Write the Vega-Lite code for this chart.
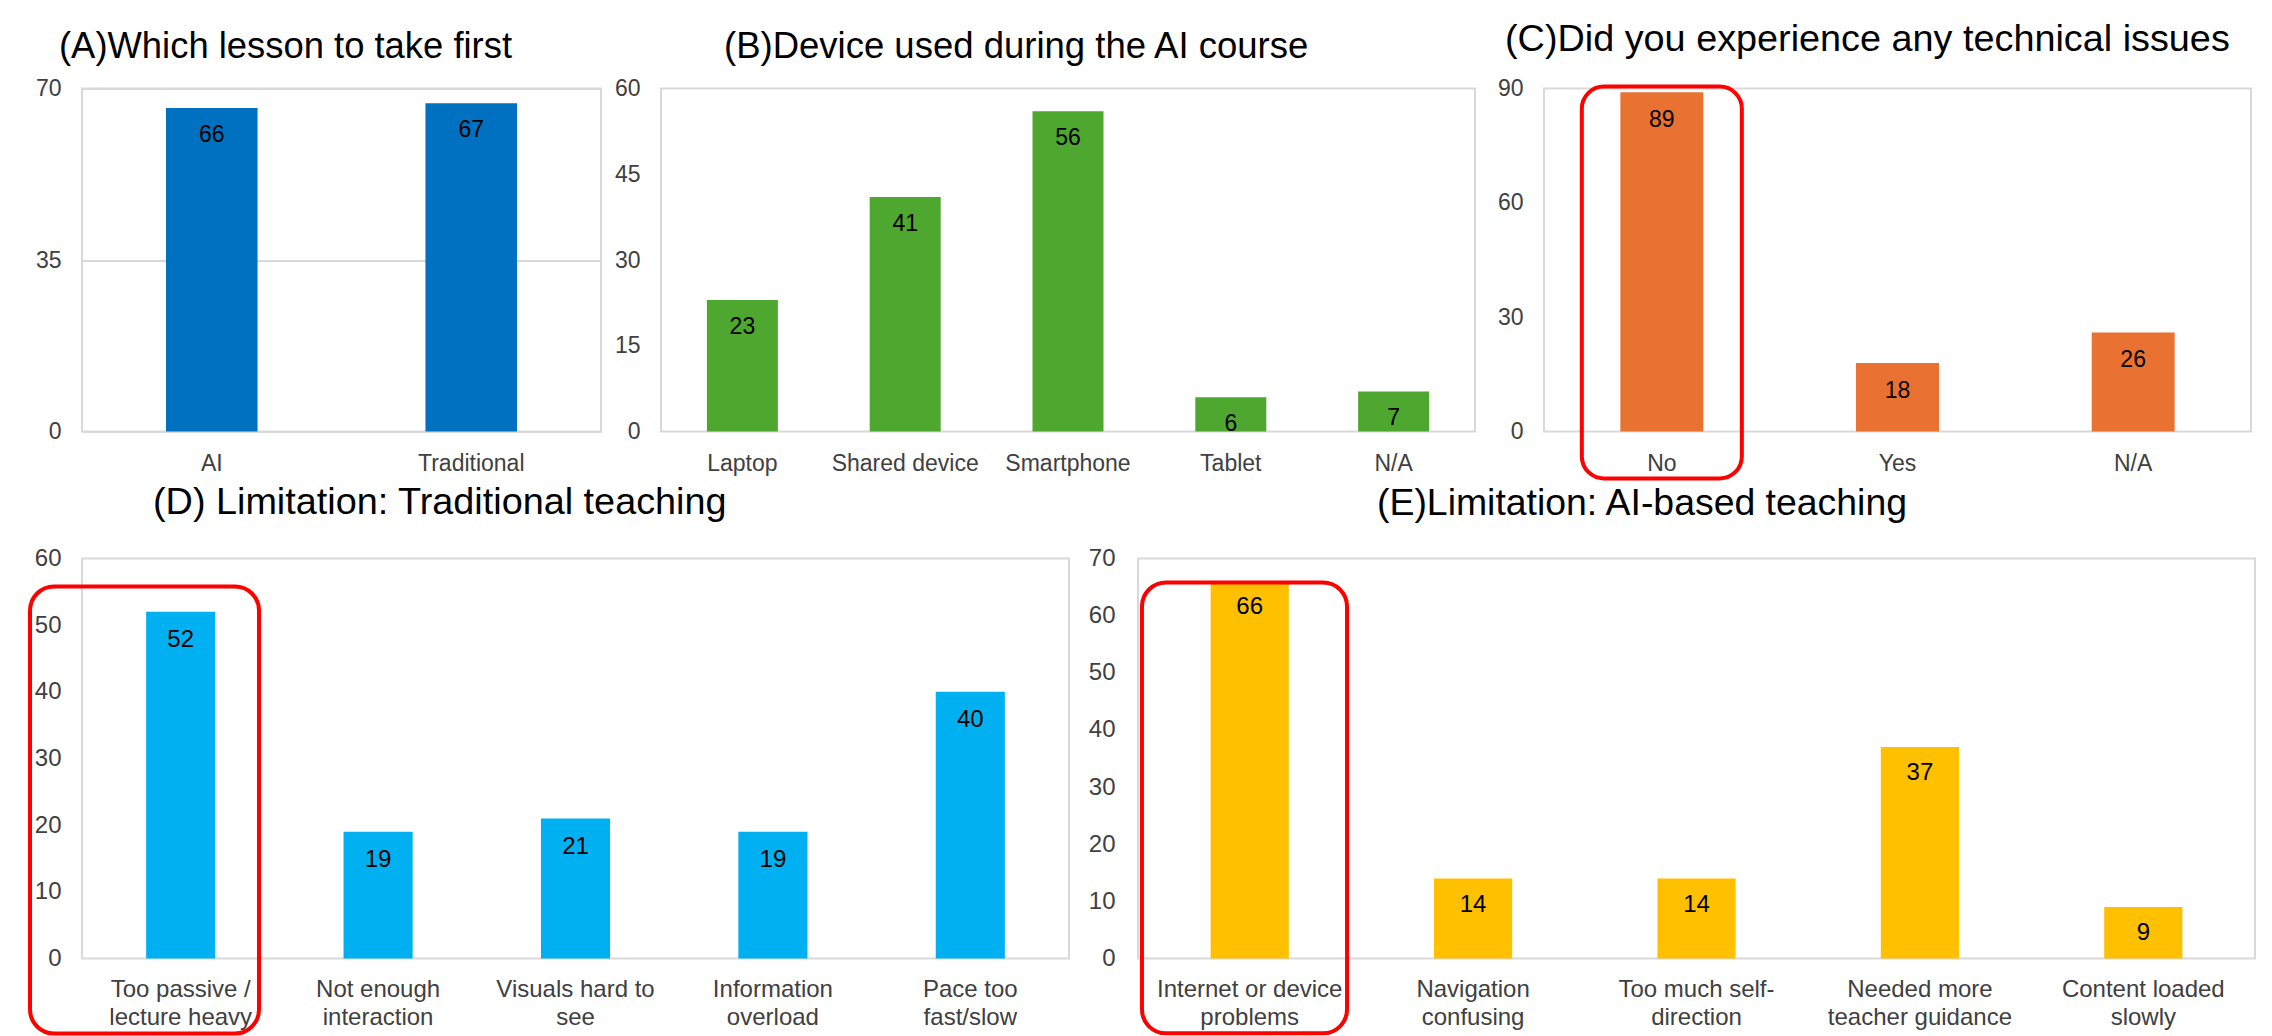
{
  "$schema": "https://vega.github.io/schema/vega-lite/v6.json",
  "background": "white",
  "padding": {"left": 27, "top": 19.5, "right": 5, "bottom": 0},
  "config": {
    "font": "Liberation Sans",
    "view": {"stroke": "#d9d9d9", "strokeWidth": 2},
    "axis": {"labelFont": "Liberation Sans", "labelColor": "#404040", "ticks": false, "domain": false, "grid": false, "labelLimit": 0},
    "axisX": {"labelAngle": 0, "labelPadding": 21, "labelFontSize": 23},
    "axisY": {"labelPadding": 21, "labelFontSize": 23},
    "title": {"anchor": "start", "font": "Liberation Sans", "fontWeight": "normal", "color": "#000000", "frame": "group", "offset": 0}
  },
  "datasets": {
    "lesson": [{"option": "AI", "count": 66}, {"option": "Traditional", "count": 67}],
    "device": [{"device": "Laptop", "count": 23}, {"device": "Shared device", "count": 41}, {"device": "Smartphone", "count": 56}, {"device": "Tablet", "count": 6}, {"device": "N/A", "count": 7}],
    "issues": [{"answer": "No", "count": 89}, {"answer": "Yes", "count": 18}, {"answer": "N/A", "count": 26}],
    "traditional": [{"limitation": "Too passive /\nlecture heavy", "count": 52}, {"limitation": "Not enough\ninteraction", "count": 19}, {"limitation": "Visuals hard to\nsee", "count": 21}, {"limitation": "Information\noverload", "count": 19}, {"limitation": "Pace too\nfast/slow", "count": 40}],
    "aibased": [{"limitation": "Internet or device\nproblems", "count": 66}, {"limitation": "Navigation\nconfusing", "count": 14}, {"limitation": "Too much self-\ndirection", "count": 14}, {"limitation": "Needed more\nteacher guidance", "count": 37}, {"limitation": "Content loaded\nslowly", "count": 9}]
  },
  "spacing": 470,
  "bounds": "flush",
  "vconcat": [
    {
      "hconcat": [
        {
          "width": 519, "height": 343,
          "title": {"text": "(A)Which lesson to take first", "fontSize": 36.4, "dx": -23, "dy": -8.5},
          "data": {"name": "lesson"},
          "layer": [
            {
              "mark": {"type": "bar", "color": "#0070C0", "width": {"band": 0.353}},
              "encoding": {
                "x": {"field": "option", "type": "nominal", "scale": {"domain": ["AI", "Traditional"], "paddingInner": 0, "paddingOuter": 0}, "axis": {"title": null}},
                "y": {"field": "count", "type": "quantitative", "scale": {"domain": [0, 70], "nice": false}, "axis": {"title": null, "values": [0, 35, 70], "grid": true, "gridColor": "#d9d9d9", "gridWidth": 2}}
              }
            },
            {
              "mark": {"type": "text", "dy": 27, "baseline": "middle", "fontSize": 23, "color": "#000000"},
              "encoding": {
                "x": {"field": "option", "type": "nominal"},
                "y": {"field": "count", "type": "quantitative"},
                "text": {"field": "count", "type": "quantitative"}
              }
            }
          ]
        },
        {
          "hconcat": [
            {
              "width": 814, "height": 343,
              "title": {"text": "(B)Device used during the AI course", "fontSize": 36.5, "dx": 63, "dy": -8.5},
              "data": {"name": "device"},
              "layer": [
                {
                  "mark": {"type": "bar", "color": "#4EA72E", "width": {"band": 0.436}},
                  "encoding": {
                    "x": {"field": "device", "type": "nominal", "scale": {"domain": ["Laptop", "Shared device", "Smartphone", "Tablet", "N/A"], "paddingInner": 0, "paddingOuter": 0}, "axis": {"title": null}},
                    "y": {"field": "count", "type": "quantitative", "scale": {"domain": [0, 60], "nice": false}, "axis": {"title": null, "values": [0, 15, 30, 45, 60]}}
                  }
                },
                {
                  "mark": {"type": "text", "dy": 27, "baseline": "middle", "fontSize": 23, "color": "#000000"},
                  "encoding": {
                    "x": {"field": "device", "type": "nominal"},
                    "y": {"field": "count", "type": "quantitative"},
                    "text": {"field": "count", "type": "quantitative"}
                  }
                }
              ]
            },
            {
              "width": 707, "height": 343,
              "title": {"text": "(C)Did you experience any technical issues", "fontSize": 37.8, "dx": -39, "dy": -14.5},
              "data": {"name": "issues"},
              "layer": [
                {
                  "mark": {"type": "bar", "color": "#E97132", "width": {"band": 0.352}},
                  "encoding": {
                    "x": {"field": "answer", "type": "nominal", "scale": {"domain": ["No", "Yes", "N/A"], "paddingInner": 0, "paddingOuter": 0}, "axis": {"title": null}},
                    "y": {"field": "count", "type": "quantitative", "scale": {"domain": [0, 90], "nice": false}, "axis": {"title": null, "values": [0, 30, 60, 90]}}
                  }
                },
                {
                  "mark": {"type": "text", "dy": 28, "baseline": "middle", "fontSize": 23, "color": "#000000"},
                  "encoding": {
                    "x": {"field": "answer", "type": "nominal"},
                    "y": {"field": "count", "type": "quantitative"},
                    "text": {"field": "count", "type": "quantitative"}
                  }
                },
                {
                  "data": {"values": [{}]},
                  "mark": {"type": "bar", "fillOpacity": 0, "stroke": "#FF0000", "strokeWidth": 4, "cornerRadius": 22, "width": {"band": 0.679}},
                  "encoding": {
                    "x": {"datum": "No", "type": "nominal"},
                    "y": {"datum": 90.5, "type": "quantitative"},
                    "y2": {"datum": -12.3}
                  }
                }
              ]
            }
          ],
          "spacing": 69,
          "bounds": "flush"
        }
      ],
      "spacing": 60,
      "bounds": "flush"
    },
    {
      "hconcat": [
        {
          "width": 987, "height": 400,
          "title": {"text": "(D) Limitation: Traditional teaching", "fontSize": 37.8, "dx": 71, "dy": -20.5},
          "data": {"name": "traditional"},
          "layer": [
            {
              "mark": {"type": "bar", "color": "#00B0F0", "width": {"band": 0.35}},
              "encoding": {
                "x": {"field": "limitation", "type": "nominal", "scale": {"domain": ["Too passive /\nlecture heavy", "Not enough\ninteraction", "Visuals hard to\nsee", "Information\noverload", "Pace too\nfast/slow"], "paddingInner": 0, "paddingOuter": 0}, "axis": {"title": null, "labelExpr": "split(datum.label, '\\n')", "labelFontSize": 24, "labelLineHeight": 28, "labelPadding": 19}},
                "y": {"field": "count", "type": "quantitative", "scale": {"domain": [0, 60], "nice": false}, "axis": {"title": null, "values": [0, 10, 20, 30, 40, 50, 60], "labelFontSize": 24}}
              }
            },
            {
              "mark": {"type": "text", "dy": 28, "baseline": "middle", "fontSize": 24, "color": "#000000"},
              "encoding": {
                "x": {"field": "limitation", "type": "nominal"},
                "y": {"field": "count", "type": "quantitative"},
                "text": {"field": "count", "type": "quantitative"}
              }
            },
            {
              "data": {"values": [{}]},
              "mark": {"type": "bar", "fillOpacity": 0, "stroke": "#FF0000", "strokeWidth": 4, "cornerRadius": 24, "width": {"band": 1.16}, "xOffset": -36.2},
              "encoding": {
                "x": {"datum": "Too passive /\nlecture heavy", "type": "nominal"},
                "y": {"datum": 55.8, "type": "quantitative"},
                "y2": {"datum": -11.25}
              }
            }
          ]
        },
        {
          "width": 1117, "height": 400,
          "title": {"text": "(E)Limitation: AI-based teaching", "fontSize": 37.4, "dx": 239, "dy": -20.5},
          "data": {"name": "aibased"},
          "layer": [
            {
              "mark": {"type": "bar", "color": "#FFC000", "width": {"band": 0.35}},
              "encoding": {
                "x": {"field": "limitation", "type": "nominal", "scale": {"domain": ["Internet or device\nproblems", "Navigation\nconfusing", "Too much self-\ndirection", "Needed more\nteacher guidance", "Content loaded\nslowly"], "paddingInner": 0, "paddingOuter": 0}, "axis": {"title": null, "labelExpr": "split(datum.label, '\\n')", "labelFontSize": 24, "labelLineHeight": 28, "labelPadding": 19}},
                "y": {"field": "count", "type": "quantitative", "scale": {"domain": [0, 70], "nice": false}, "axis": {"title": null, "values": [0, 10, 20, 30, 40, 50, 60, 70], "labelFontSize": 24, "labelPadding": 23}}
              }
            },
            {
              "mark": {"type": "text", "dy": 26, "baseline": "middle", "fontSize": 24, "color": "#000000"},
              "encoding": {
                "x": {"field": "limitation", "type": "nominal"},
                "y": {"field": "count", "type": "quantitative"},
                "text": {"field": "count", "type": "quantitative"}
              }
            },
            {
              "data": {"values": [{}]},
              "mark": {"type": "bar", "fillOpacity": 0, "stroke": "#FF0000", "strokeWidth": 4, "cornerRadius": 24, "width": {"band": 0.918}, "xOffset": -5.2},
              "encoding": {
                "x": {"datum": "Internet or device\nproblems", "type": "nominal"},
                "y": {"datum": 65.8, "type": "quantitative"},
                "y2": {"datum": -13.1}
              }
            }
          ]
        }
      ],
      "spacing": 69,
      "bounds": "flush"
    }
  ]
}
